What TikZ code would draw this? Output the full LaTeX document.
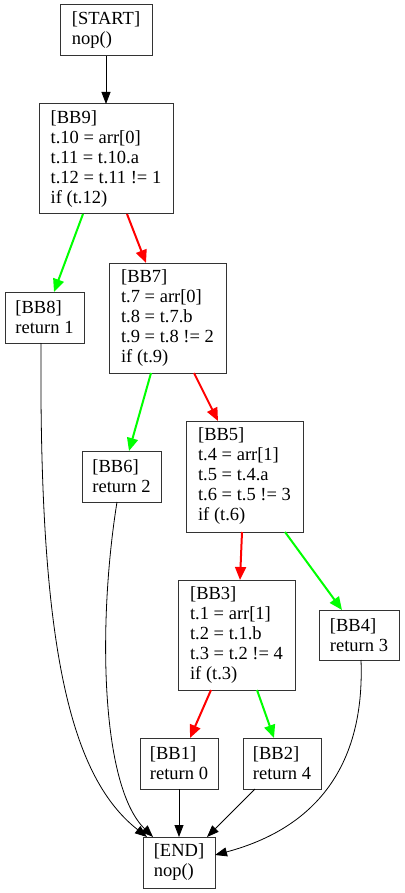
\documentclass[tikz,border=0pt]{standalone}
\usepackage{fontspec}
\setmainfont{Liberation Serif}
\usetikzlibrary{arrows.meta}
\begin{document}
\begin{tikzpicture}[x=1pt,y=-1pt,
  block/.style={draw=black!80,line width=1pt,fill=white,align=left,
    inner sep=0pt,outer sep=0pt,font=\fontsize{18.5}{20}\selectfont},
  flow/.style={line width=0.8pt,-{Triangle[length=12pt,width=9pt]}},
  taken/.style={line width=2pt,draw=green,-{Triangle[length=13pt,width=11pt,fill=green]}},
  nottaken/.style={line width=2pt,draw=red,-{Triangle[length=13pt,width=11pt,fill=red]}}]
\useasboundingbox (0,0) rectangle (404,893);

% basic blocks
\node[block,minimum width=92pt,minimum height=51pt] (start) at (106,30.5) {[START]\\nop()};
\node[block,minimum width=134pt,minimum height=110pt] (bb9) at (106,159)
  {[BB9]\\t.10 = arr[0]\\t.11 = t.10.a\\t.12 = t.11 != 1\\if (t.12)};
\node[block,minimum width=79pt,minimum height=51pt] (bb8) at (44.5,317.5) {[BB8]\\return 1};
\node[block,minimum width=117pt,minimum height=110pt] (bb7) at (167.5,318)
  {[BB7]\\t.7 = arr[0]\\t.8 = t.7.b\\t.9 = t.8 != 2\\if (t.9)};
\node[block,minimum width=79pt,minimum height=51pt] (bb6) at (121.5,476.5) {[BB6]\\return 2};
\node[block,minimum width=117pt,minimum height=111pt] (bb5) at (244.5,476.5)
  {[BB5]\\t.4 = arr[1]\\t.5 = t.4.a\\t.6 = t.5 != 3\\if (t.6)};
\node[block,minimum width=117pt,minimum height=110pt] (bb3) at (236.5,635)
  {[BB3]\\t.1 = arr[1]\\t.2 = t.1.b\\t.3 = t.2 != 4\\if (t.3)};
\node[block,minimum width=80pt,minimum height=50pt] (bb4) at (359,635) {[BB4]\\return 3};
\node[block,minimum width=78pt,minimum height=51pt] (bb1) at (179,763.5) {[BB1]\\return 0};
\node[block,minimum width=78pt,minimum height=51pt] (bb2) at (282,763.5) {[BB2]\\return 4};
\node[block,minimum width=72pt,minimum height=51pt] (end) at (179,862.5) {[END]\\nop()};

% control flow
\draw[flow] (start.south) -- (bb9.north);
\draw[taken]    ([xshift=-23pt]bb9.south) -- ([xshift=9.5pt]bb8.north);
\draw[nottaken] ([xshift=21pt]bb9.south) -- ([xshift=-21.5pt]bb7.north);
\draw[taken]    ([xshift=-16.5pt]bb7.south) -- ([xshift=7.5pt]bb6.north);
\draw[nottaken] ([xshift=26.5pt]bb7.south) -- ([xshift=-26.5pt]bb5.north);
\draw[nottaken] ([xshift=-2.5pt]bb5.south) -- ([xshift=3.5pt]bb3.north);
\draw[taken]    ([xshift=40.5pt]bb5.south) -- ([xshift=-17pt]bb4.north);
\draw[nottaken] ([xshift=-25.5pt]bb3.south) -- ([xshift=11pt]bb1.north);
\draw[taken]    ([xshift=20.5pt]bb3.south) -- ([xshift=-8pt]bb2.north);

% returns into END
\draw[flow] ([xshift=-3.5pt]bb8.south) .. controls (39,640) and (68,775) .. ([xshift=-32pt]end.north);
\draw[flow] ([xshift=-4.5pt]bb6.south) .. controls (98,620) and (100,785) .. ([xshift=-26pt]end.north);
\draw[flow] (bb1.south) -- (end.north);
\draw[flow] ([xshift=-27pt]bb2.south) -- ([xshift=28pt]end.north);
\draw[flow] ([xshift=2pt]bb4.south) .. controls (366,790) and (290,835) .. ([yshift=7.5pt]end.east);
\end{tikzpicture}
\end{document}
